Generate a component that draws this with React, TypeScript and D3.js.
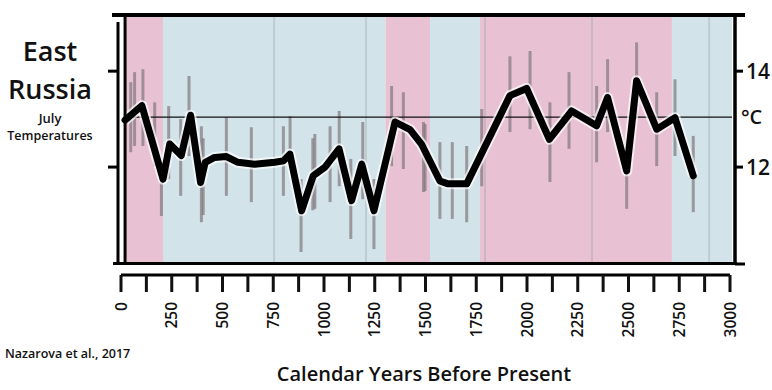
import React from "react";
import * as d3 from "d3";

// line vertices (years BP, July temp °C)
const lineYears = [20, 103, 207, 240, 297, 343, 392, 415, 461, 519, 576, 658, 757, 800, 832, 890, 947, 1005, 1074, 1136, 1186, 1246, 1350, 1424, 1480, 1571, 1611, 1703, 1916, 1998, 2110, 2220, 2343, 2397, 2491, 2540, 2639, 2729, 2819];
const lineTemps = [12.98, 13.28, 11.75, 12.48, 12.24, 13.08, 11.68, 12.1, 12.2, 12.22, 12.1, 12.06, 12.1, 12.13, 12.27, 11.09, 11.82, 12.0, 12.38, 11.3, 12.06, 11.09, 12.94, 12.78, 12.48, 11.71, 11.65, 11.65, 13.49, 13.64, 12.58, 13.17, 12.86, 13.45, 11.92, 13.8, 12.79, 13.03, 11.82];

// error bars
const errYears = [48, 67, 108, 166, 199, 235, 294, 335, 396, 405, 519, 642, 800, 833, 887, 945, 955, 1030, 1075, 1132, 1191, 1246, 1333, 1391, 1490, 1498, 1571, 1632, 1703, 1777, 1916, 2015, 2113, 2207, 2343, 2397, 2491, 2540, 2639, 2729, 2819];
const errHi = [13.77, 13.98, 14.04, 13.35, 12.02, 13.27, 13.0, 13.9, 12.85, 12.6, 13.04, 12.83, 12.85, 13.06, 11.75, 12.6, 12.69, 12.85, 13.17, 12.17, 12.94, 11.75, 13.69, 13.56, 12.94, 12.9, 12.52, 12.52, 12.44, 13.21, 14.31, 14.42, 13.35, 13.98, 13.69, 14.25, 12.58, 14.6, 13.56, 13.83, 12.65];
const errLo = [12.31, 12.44, 12.44, 12.02, 10.98, 11.75, 11.4, 12.23, 10.85, 11.0, 11.4, 11.27, 11.4, 12.38, 10.23, 11.1, 11.13, 11.27, 11.6, 10.5, 11.33, 10.29, 12.02, 11.96, 11.48, 11.5, 10.92, 10.92, 10.85, 11.6, 12.73, 12.79, 11.69, 12.38, 12.1, 12.73, 11.13, 13.0, 12.02, 12.23, 11.06];

// warm / cold periods
const bandStart = [20, 207, 1303, 1522, 1768, 2714];
const bandEnd = [207, 1303, 1522, 1768, 2714, 3010];
const bandWarm = [true, false, true, false, true, false];
const faintYears = [754, 1207, 1793, 2320, 2897];

const xTicks = d3.range(0, 3001, 125);
const xLabels = d3.range(0, 3001, 250);
const yTicks = [12, 14];
const refTemp = 13.04;

const font = "'Open Sans', 'DejaVu Sans', sans-serif";

export default function App() {
  const x = d3.scaleLinear().domain([0, 3000]).range([121, 730]);
  const y = d3.scaleLinear().domain([10, 15.15]).range([263, 16]);

  const plotL = x(20);
  const plotR = x(3010);
  const top = y(15.15);
  const bottom = y(10);

  const line = d3.line<number>()
    .x((d, i) => x(lineYears[i]))
    .y((d) => y(d));

  return (
    <svg width={772} height={390} style={{ position: "absolute", left: 0, top: 0, background: "#fff" }} fontFamily={font}>
      {/* bands */}
      {bandStart.map((s, i) => (
        <rect key={"b" + i} x={x(s)} y={top} width={x(bandEnd[i]) - x(s)} height={bottom - top}
          fill={bandWarm[i] ? "#e8c2d3" : "#d2e3ea"} />
      ))}
      {faintYears.map((yr, i) => (
        <line key={"f" + i} x1={x(yr)} x2={x(yr)} y1={top} y2={bottom} stroke="#9aa0a8" strokeOpacity={0.35} strokeWidth={2} />
      ))}

      {/* error bars */}
      {errYears.map((yr, i) => (
        <line key={"e" + i} x1={x(yr)} x2={x(yr)} y1={y(errHi[i])} y2={y(errLo[i])} stroke="#80787c" strokeOpacity={0.7} strokeWidth={3} />
      ))}

      {/* reference line */}
      <line x1={plotL} x2={plotR} y1={y(refTemp)} y2={y(refTemp)} stroke="#111" strokeWidth={1.2} />

      {/* temperature line */}
      <path d={line(lineTemps) || ""} fill="none" stroke="#fff" strokeOpacity={0.7} strokeWidth={11} strokeLinejoin="round" />
      <path d={line(lineTemps) || ""} fill="none" stroke="#000" strokeWidth={7} strokeLinejoin="round" strokeLinecap="round" />

      {/* frame */}
      <line x1={112} x2={745} y1={15} y2={15} stroke="#000" strokeWidth={4} />
      <line x1={plotL} x2={plotL} y1={15} y2={265} stroke="#000" strokeWidth={3} />
      <line x1={113} x2={737} y1={263.5} y2={263.5} stroke="#000" strokeWidth={3} />
      {/* left axis */}
      <line x1={118} x2={118} y1={22} y2={265} stroke="#000" strokeWidth={3} />
      {yTicks.map((t) => (
        <line key={"lt" + t} x1={108} x2={118} y1={y(t)} y2={y(t)} stroke="#000" strokeWidth={3} />
      ))}
      {/* right axis */}
      <line x1={735} x2={735} y1={15} y2={265} stroke="#000" strokeWidth={3.5} />
      <line x1={735} x2={745} y1={264} y2={264} stroke="#000" strokeWidth={3} />
      {yTicks.map((t) => (
        <g key={"rt" + t}>
          <line x1={735} x2={743} y1={y(t)} y2={y(t)} stroke="#000" strokeWidth={3} />
          <text x={746} y={y(t)} dy="0.36em" fontSize={21} fontWeight={600} fill="#111">{t}</text>
        </g>
      ))}
      <text x={741} y={y(refTemp)} dy="0.36em" fontSize={20} fontWeight={600} fill="#111">°C</text>

      {/* bottom axis */}
      <line x1={x(0)} x2={x(3000)} y1={275} y2={275} stroke="#000" strokeWidth={3} />
      {xTicks.map((t) => (
        <line key={"xt" + t} x1={x(t)} x2={x(t)} y1={275} y2={292} stroke="#111" strokeWidth={3} />
      ))}
      {xLabels.map((t) => (
        <text key={"xl" + t} transform={`translate(${x(t)},302) rotate(-90)`} textAnchor="end" dy="0.36em" fontSize={15.5} fontWeight={600} fill="#111">{t}</text>
      ))}

      {/* titles */}
      <text x={50} y={61} textAnchor="middle" fontSize={27} fontWeight={600} fill="#111">East</text>
      <text x={50} y={99} textAnchor="middle" fontSize={27} fontWeight={600} fill="#111">Russia</text>
      <text x={50} y={123} textAnchor="middle" fontSize={13} fontWeight={600} fill="#111">July</text>
      <text x={50} y={140} textAnchor="middle" fontSize={12.5} fontWeight={600} fill="#111">Temperatures</text>
      <text x={5} y={358} fontSize={12.5} fontWeight={600} fill="#111">Nazarova et al., 2017</text>
      <text x={424} y={381} textAnchor="middle" fontSize={20} fontWeight={600} fill="#111">Calendar Years Before Present</text>
    </svg>
  );
}
